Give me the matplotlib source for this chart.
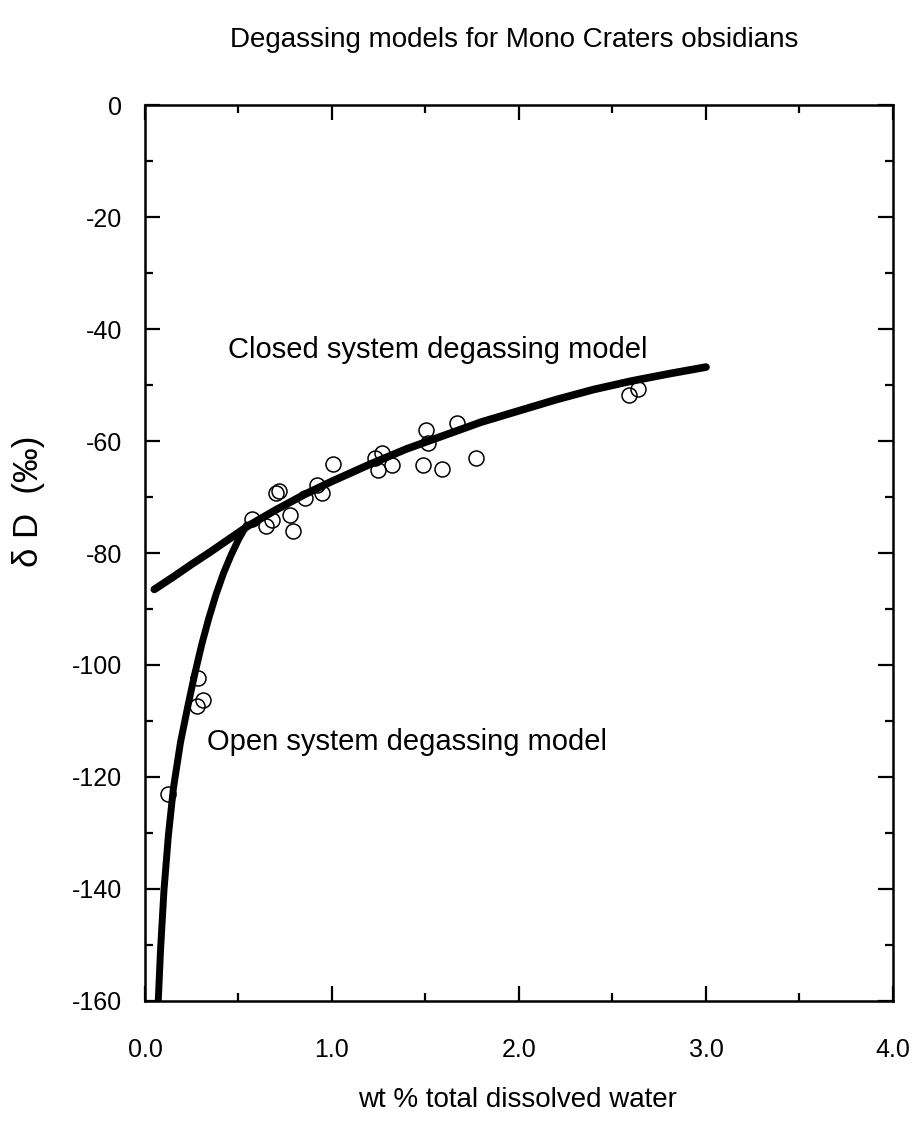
import matplotlib
matplotlib.use("Agg")
import matplotlib.pyplot as plt
from matplotlib.ticker import MultipleLocator, FixedLocator, FixedFormatter

plt.rcParams["font.family"] = ["Liberation Sans", "DejaVu Sans"]

# Measured obsidian samples: total dissolved water (wt %) and deltaD (per mil)
water_wt = [0.125, 0.280, 0.285, 0.312,
            0.570, 0.647, 0.677, 0.700, 0.715, 0.775, 0.790, 0.856, 0.922, 0.945, 1.004,
            1.230, 1.266, 1.248, 1.323, 1.488, 1.501, 1.511, 1.590, 1.667, 1.768,
            2.590, 2.634]
delta_d = [-123.0, -107.3, -102.3, -106.3,
           -74.0, -75.2, -74.1, -69.2, -69.0, -73.2, -76.1, -70.1, -67.9, -69.2, -64.1,
           -63.1, -62.1, -65.2, -64.2, -64.2, -58.1, -60.3, -65.0, -56.8, -63.1,
           -51.8, -50.8]

# Closed system degassing model curve
closed_x = [0.05, 0.15, 0.25, 0.35, 0.45, 0.55, 0.70, 0.85, 1.00, 1.20, 1.40,
            1.60, 1.80, 2.00, 2.20, 2.40, 2.60, 2.80, 3.00]
closed_y = [-86.5, -84.3, -82.0, -79.8, -77.5, -75.2, -72.3, -69.6, -67.2, -64.2, -61.4,
            -59.0, -56.6, -54.6, -52.6, -50.8, -49.3, -48.0, -46.8]

# Open system degassing model curve
open_x = [0.071, 0.083, 0.1016, 0.125, 0.152, 0.190, 0.232, 0.267, 0.303, 0.340,
          0.380, 0.420, 0.460, 0.500, 0.544]
open_y = [-160.0, -151.0, -140.2, -130.5, -122.0, -113.8, -106.9, -101.5, -96.4, -91.8,
          -87.4, -83.6, -80.4, -77.6, -75.0]

x_ticks = [0.0, 1.0, 2.0, 3.0, 4.0]
x_tick_labels = ["0.0", "1.0", "2.0", "3.0", "4.0"]
y_ticks = [0, -20, -40, -60, -80, -100, -120, -140, -160]
y_tick_labels = ["0", "-20", "-40", "-60", "-80", "-100", "-120", "-140", "-160"]

fig = plt.figure(figsize=(9.17, 11.28), dpi=100)
ax = fig.add_axes([0.1581, 0.1126, 0.8157, 0.7943])

ax.plot(closed_x, closed_y, color="black", lw=5.5, solid_capstyle="round",
        solid_joinstyle="round", zorder=3)
ax.plot(open_x, open_y, color="black", lw=5.0, solid_capstyle="round",
        solid_joinstyle="round", zorder=3)
ax.plot(water_wt, delta_d, linestyle="none", marker="o", markersize=10.8,
        markerfacecolor="none", markeredgecolor="black", markeredgewidth=1.1, zorder=4)

ax.set_xlim(0, 4)
ax.set_ylim(-160, 0)
ax.xaxis.set_major_locator(FixedLocator(x_ticks))
ax.xaxis.set_major_formatter(FixedFormatter(x_tick_labels))
ax.xaxis.set_minor_locator(MultipleLocator(0.5))
ax.yaxis.set_major_locator(FixedLocator(y_ticks))
ax.yaxis.set_major_formatter(FixedFormatter(y_tick_labels))
ax.yaxis.set_minor_locator(MultipleLocator(10))

ax.tick_params(which="both", direction="in", top=True, right=True, width=1.6)
ax.tick_params(which="major", length=10.5)
ax.tick_params(which="minor", length=6)
ax.tick_params(axis="x", which="major", pad=27, labelsize=18)
ax.tick_params(axis="y", which="major", pad=16.5, labelsize=18)
for sp in ax.spines.values():
    sp.set_linewidth(1.8)

ax.text(0.445, -43.75, "Closed system degassing model", fontsize=21, ha="left", va="center")
ax.text(0.332, -113.75, "Open system degassing model", fontsize=21, ha="left", va="center")

fig.text(0.5605, 0.9645, "Degassing models for Mono Craters obsidians", fontsize=20,
         ha="center", va="center")
fig.text(0.5638, 0.0248, "wt % total dissolved water", fontsize=20, ha="center", va="center")
fig.text(0.031, 0.556, "\u03b4 D  (\u2030)", fontsize=25, rotation=90,
         ha="center", va="center")

fig.savefig("out.png", dpi=100, facecolor="white")
